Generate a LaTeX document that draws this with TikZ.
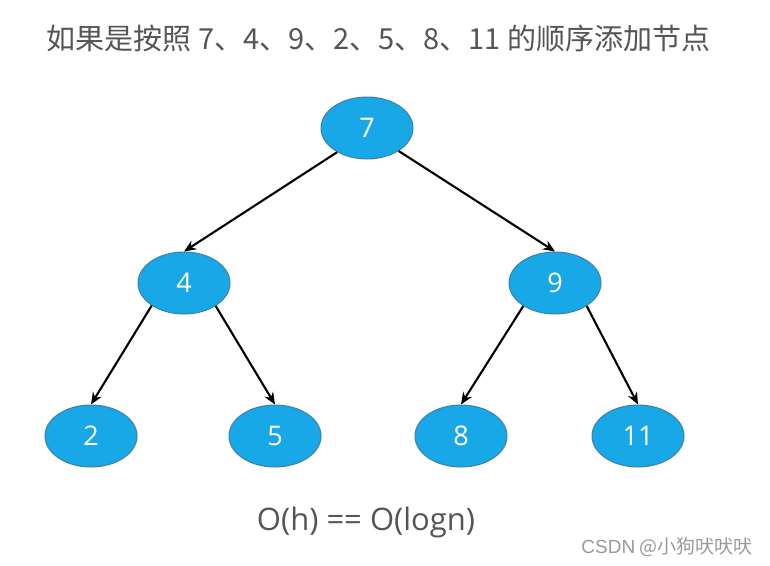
\documentclass[tikz,border=0pt]{standalone}
\usepackage{fontspec}
\setmainfont{Open Sans}
\newfontfamily\cjk{Noto Sans CJK SC}
\newfontfamily\wmfont{Liberation Sans}
\usetikzlibrary{shapes.geometric,arrows.meta}
\definecolor{nodefill}{HTML}{18A8E8}
\definecolor{nodeline}{HTML}{3F7FA6}
\definecolor{txtgrey}{HTML}{555555}
\tikzset{
  treenode/.style={ellipse, draw=nodeline, line width=1pt, fill=nodefill,
    minimum width=92pt, minimum height=62pt, inner sep=0pt,
    text=white, font=\fontsize{27}{27}\selectfont},
  edge/.style={line width=2.1pt, -{Stealth[length=12pt,width=10pt]}}
}
\begin{document}
\begin{tikzpicture}[x=1pt,y=-1pt]
\useasboundingbox (0,0) rectangle (770,565);
\node[text=txtgrey, font=\cjk\fontsize{29}{29}\selectfont, anchor=west] (title) at (43,38) {如果是按照 7、4、9、2、5、8、11 的顺序添加节点};
\node[treenode] (n7) at (367,128) {7};
\node[treenode] (n4) at (184,283) {4};
\node[treenode] (n9) at (555,283) {9};
\node[treenode] (n2) at (91,436) {2};
\node[treenode] (n5) at (275,436) {5};
\node[treenode] (n8) at (461,436) {8};
\node[treenode] (n11) at (638,436) {11};
\draw[edge] (n7.219) -- (n4.north);
\draw[edge] (n7.324) -- (n9.north);
\draw[edge] (n4.215) -- (n2.north);
\draw[edge] (n4.324) -- (n5.north);
\draw[edge] (n9.216) -- (n8.north);
\draw[edge] (n9.324) -- (n11.north);
\node[text=txtgrey, font=\fontsize{31}{31}\selectfont] (big) at (366,522) {O(h) == O(logn)};
\node[text=black!40, font=\cjk\fontsize{19}{19}\selectfont, anchor=east] (wm) at (756,547) {{\wmfont CSDN} @小狗吠吠吠};
\end{tikzpicture}
\end{document}
